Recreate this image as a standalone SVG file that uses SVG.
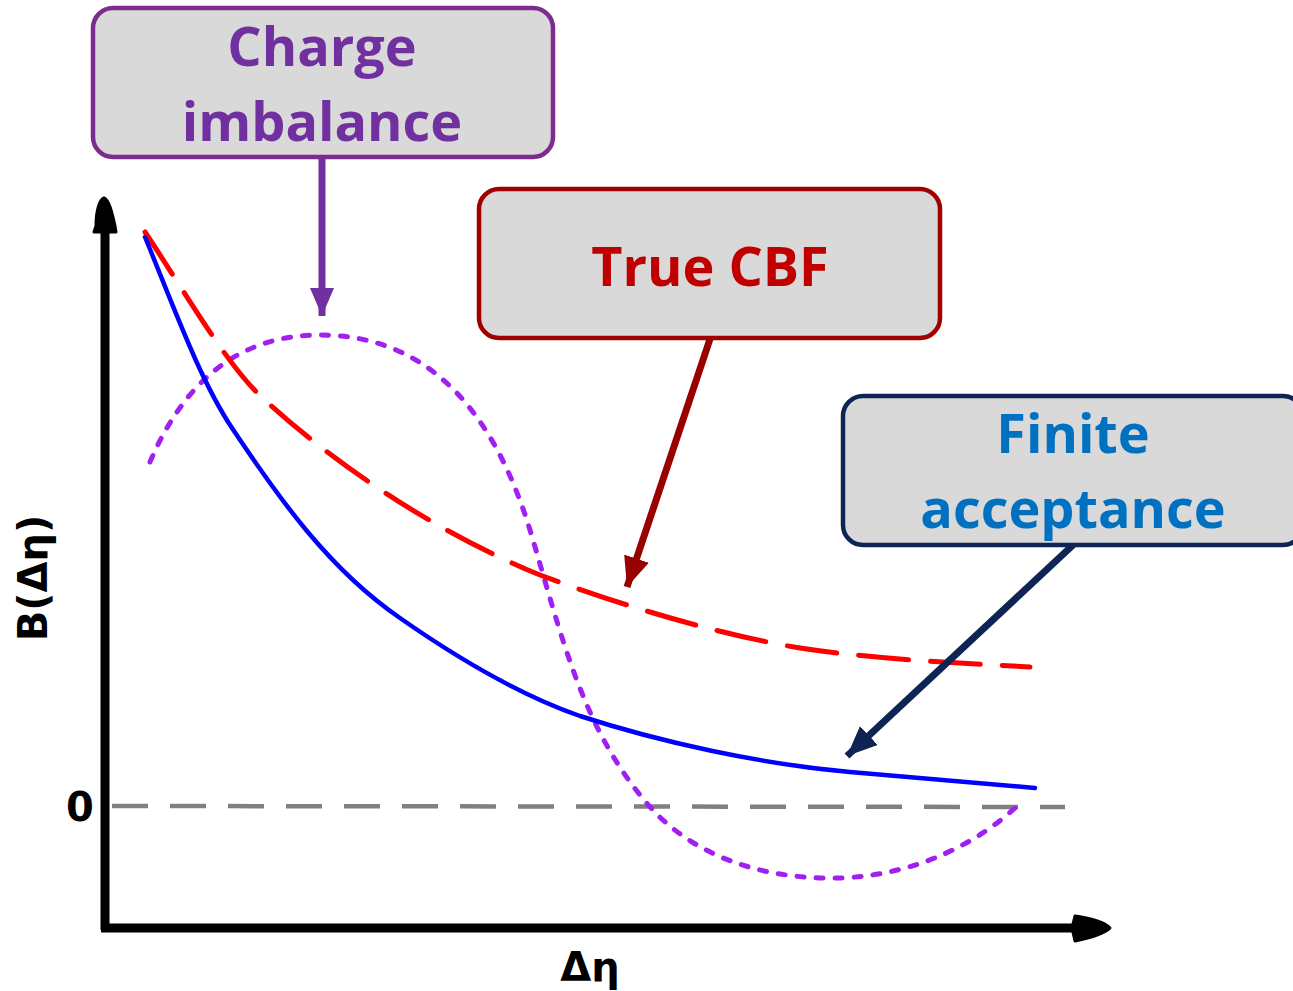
<svg xmlns="http://www.w3.org/2000/svg" width="1293" height="991" viewBox="0 0 1293 991">
<style>
.box{fill:#d9d9d9;stroke-width:4.5}
.lbl{font-family:"Open Sans","Liberation Sans",sans-serif;font-weight:bold;font-size:54px;text-anchor:middle}
.ax{font-family:"DejaVu Sans",sans-serif;font-weight:bold;font-size:40px;text-anchor:middle;fill:#000}
.curve{fill:none;stroke-linecap:round}
</style>
<defs>
<marker id="mPurple" markerUnits="userSpaceOnUse" markerWidth="40" markerHeight="40" refX="28" refY="12" orient="auto"><path d="M0,0 L28,12 L0,24 Z" fill="#7030A0"/></marker>
<marker id="mRed" markerUnits="userSpaceOnUse" markerWidth="40" markerHeight="40" refX="30" refY="13" orient="auto"><path d="M0,0 L30,13 L0,26 Z" fill="#990000"/></marker>
<marker id="mNavy" markerUnits="userSpaceOnUse" markerWidth="40" markerHeight="40" refX="30" refY="13" orient="auto"><path d="M0,0 L30,13 L0,26 Z" fill="#0D2455"/></marker>
</defs>
<rect width="1293" height="991" fill="#fff"/>
<g id="axes">
<line x1="105" y1="230" x2="105" y2="930" stroke="#000" stroke-width="9"/>
<line x1="101" y1="928" x2="1075" y2="928" stroke="#000" stroke-width="9"/>
<path d="M96,226 C96,212 99,200 104,198 C109,200 112,212 115,226 L116,232 L94,232 Z" fill="#000" stroke="#000" stroke-width="3" stroke-linejoin="round"/>
<path d="M1075,916 C1090,918 1104,922 1110,928 C1104,934 1090,938 1075,941 L1072,928 Z" fill="#000" stroke="#000" stroke-width="3" stroke-linejoin="round"/>
<text class="ax" x="80" y="821">0</text>
<text class="ax" x="590" y="981">Δη</text>
<text class="ax" transform="translate(47,578) rotate(-90)">B(Δη)</text>
</g>
<g id="curves">
<line x1="112" y1="806" x2="1065" y2="807" stroke="#808080" stroke-width="4.5" stroke-dasharray="36,22" fill="none"/>
<path class="curve" d="M150,462 C185,380 240,335 320,335 C420,335 490,400 530,530 C560,630 580,720 640,795 C690,860 770,880 840,878 C920,875 980,840 1015,808" stroke="#A020F0" stroke-width="5" stroke-dasharray="7,12"/>
<path class="curve" d="M145,232 C190,300 230,370 265,400 C330,460 430,530 540,575 C620,605 720,635 800,648 C880,660 960,663 1030,667" stroke="#FF0000" stroke-width="5" stroke-dasharray="50,22"/>
<path class="curve" d="M145,237 C175,310 200,380 232,428 C280,500 330,570 400,618 C460,660 520,695 580,716 C660,742 760,764 850,772 C920,778 980,783 1035,788" stroke="#0000FF" stroke-width="4.5"/>
</g>
<g id="connectors">
<line x1="322" y1="157" x2="322" y2="316" stroke="#7030A0" stroke-width="7" marker-end="url(#mPurple)"/>
<line x1="710" y1="339" x2="627" y2="587" stroke="#990000" stroke-width="7" marker-end="url(#mRed)"/>
<line x1="1073" y1="545" x2="847" y2="756" stroke="#0D2455" stroke-width="7" marker-end="url(#mNavy)"/>
</g>
<g id="charge-imbalance">
<rect class="box" x="93" y="8" width="460" height="149" rx="20" stroke="#7B2C8E"/>
<text class="lbl" x="322" y="66" fill="#7030A0">Charge</text>
<text class="lbl" x="322" y="141" fill="#7030A0">imbalance</text>
</g>
<g id="true-cbf">
<rect class="box" x="479" y="189" width="461" height="149" rx="20" stroke="#A00000"/>
<text class="lbl" x="710" y="286" fill="#C00000">True CBF</text>
</g>
<g id="finite-acceptance">
<rect class="box" x="843" y="396" width="460" height="149" rx="20" stroke="#0D2455"/>
<text class="lbl" x="1073" y="453" fill="#0070C0">Finite</text>
<text class="lbl" x="1073" y="528" fill="#0070C0">acceptance</text>
</g>
</svg>
